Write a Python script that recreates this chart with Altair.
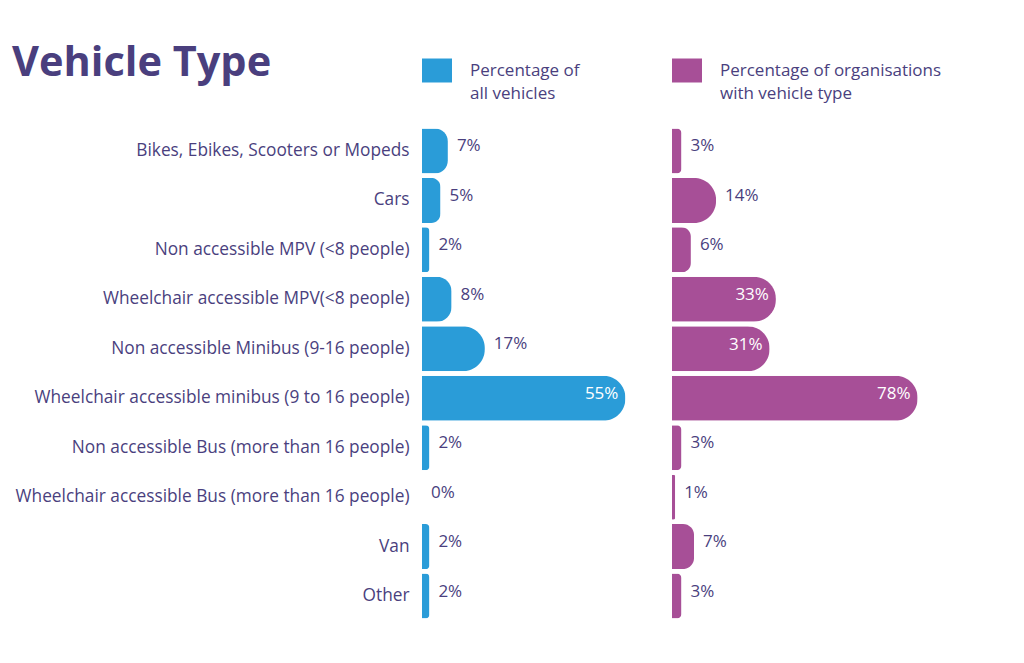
import altair as alt
import pandas as pd

# ---------------- data ----------------
categories = [
    "Bikes, Ebikes, Scooters or Mopeds",
    "Cars",
    "Non accessible MPV (<8 people)",
    "Wheelchair accessible MPV(<8 people)",
    "Non accessible Minibus (9-16 people)",
    "Wheelchair accessible minibus (9 to 16 people)",
    "Non accessible Bus (more than 16 people)",
    "Wheelchair accessible Bus (more than 16 people)",
    "Van",
    "Other",
]
pct_all_vehicles = [7, 5, 2, 8, 17, 55, 2, 0, 2, 2]
pct_orgs_with_type = [3, 14, 6, 33, 31, 78, 3, 1, 7, 3]
legend_all = ["Percentage of", "all vehicles"]
legend_orgs = ["Percentage of organisations", "with vehicle type"]
title_text = "Vehicle Type"

# ---------------- style ----------------
BLUE = "#2a9cd8"
PURPLE = "#a74f97"
INK = "#4a3f7e"
FONT = "Open Sans"

df = pd.DataFrame(
    {"category": categories, "all": pct_all_vehicles, "orgs": pct_orgs_with_type}
)
one = pd.DataFrame({"k": [0]})


def panel(field, color, xmax, width, show_axis, legend_lines, with_title=False):
    base = alt.Chart(df).transform_calculate(label=f"datum['{field}'] + '%'")
    y = alt.Y(
        "category:N",
        sort=categories,
        title=None,
        scale=alt.Scale(paddingInner=0.09, paddingOuter=0.05),
        axis=alt.Axis(
            ticks=False,
            domain=False,
            labelPadding=13,
            labelFont=FONT,
            labelFontSize=17.3,
            labelColor=INK,
            labelLimit=600,
        )
        if show_axis
        else None,
    )
    x = alt.X(
        f"{field}:Q",
        title=None,
        axis=None,
        scale=alt.Scale(domain=[0, xmax], nice=False, zero=True),
    )
    bars = base.mark_bar(color=color, cornerRadiusEnd=22).encode(x=x, y=y)
    outside = (
        base.transform_filter(f"datum['{field}'] < 20")
        .mark_text(
            align="left", baseline="middle", dx=9, dy=-4.5,
            font=FONT, fontSize=17, color=INK,
        )
        .encode(x=x, y=y, text="label:N")
    )
    inside = (
        base.transform_filter(f"datum['{field}'] >= 20")
        .mark_text(
            align="right", baseline="middle", dx=-7, dy=-4,
            font=FONT, fontSize=17, color="white",
        )
        .encode(x=x, y=y, text="label:N")
    )
    swatch = (
        alt.Chart(one)
        .mark_rect(color=color)
        .encode(
            x=alt.value(0), x2=alt.value(30),
            y=alt.value(-67.5), y2=alt.value(-43.5),
        )
    )
    legend_text = (
        alt.Chart(one)
        .mark_text(
            text=legend_lines, align="left", baseline="alphabetic",
            lineHeight=23, font=FONT, fontSize=17, color=INK,
        )
        .encode(x=alt.value(48), y=alt.value(-50.5))
    )
    layers = [bars, outside, inside, swatch, legend_text]
    if with_title:
        title = (
            alt.Chart(one)
            .mark_text(
                text=title_text, align="left", baseline="alphabetic",
                font=FONT, fontSize=41.5, fontWeight="bold", color=INK,
            )
            .encode(x=alt.value(-410), y=alt.value(-50))
        )
        layers.append(title)
    return alt.layer(*layers).properties(width=width, height=495)


left = panel("all", BLUE, 64.9, 240, True, legend_all, with_title=True)
right = panel("orgs", PURPLE, 79.4, 250, False, legend_orgs)

chart = (
    alt.hconcat(left, right, spacing=10)
    .properties(
        background="white",
        padding={"top": 35, "left": 4, "right": 5, "bottom": 5},
    )
    .configure_view(stroke=None)
)

chart.save("out.html", embed_options={"renderer": "svg", "actions": False})
